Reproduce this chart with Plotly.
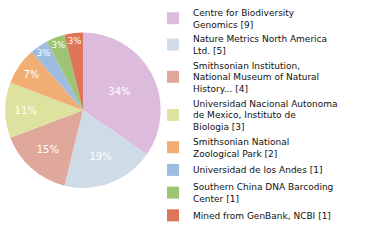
import plotly.graph_objects as go

labels = [
    "Centre for Biodiversity<br>Genomics [9]",
    "Nature Metrics North America<br>Ltd. [5]",
    "Smithsonian Institution,<br>National Museum of Natural<br>History... [4]",
    "Universidad Nacional Autonoma<br>de Mexico, Instituto de<br>Biologia [3]",
    "Smithsonian National<br>Zoological Park [2]",
    "Universidad de los Andes [1]",
    "Southern China DNA Barcoding<br>Center [1]",
    "Mined from GenBank, NCBI [1]",
]
values = [9, 5, 4, 3, 2, 1, 1, 1]
pct_text = ["34%", "19%", "15%", "11%", "7%", "3%", "3%", "3%"]
colors = ["#DDBBDD", "#CFDBE6", "#E0A89A", "#DDE39E", "#F0AE74", "#9EBCE0", "#9DC473", "#DE7458"]

fig = go.Figure(go.Pie(
    labels=labels,
    values=values,
    text=pct_text,
    textinfo="text",
    textposition="inside",
    insidetextorientation="horizontal",
    textfont=dict(color="white", size=10, family="DejaVu Sans"),
    marker=dict(colors=colors, line=dict(width=0)),
    sort=False,
    direction="clockwise",
    rotation=0,
    domain=dict(x=[4/380, 162/380], y=[1-187/240, 1-29/240]),
    showlegend=True,
))

fig.update_layout(
    width=380, height=240,
    margin=dict(l=0, r=0, t=0, b=0),
    paper_bgcolor="white",
    plot_bgcolor="white",
    legend=dict(
        x=153/380, y=1+4.5/240, xanchor="left", yanchor="top",
        font=dict(family="DejaVu Sans", size=9, color="#111"),
        tracegroupgap=0,
        itemclick=False,
        bgcolor="rgba(0,0,0,0)",
        maxheight=300,
    ),
)

fig.write_html("out.html", config={"displayModeBar": False},
               post_script="document.body.style.margin='0';document.body.style.padding='0';")
